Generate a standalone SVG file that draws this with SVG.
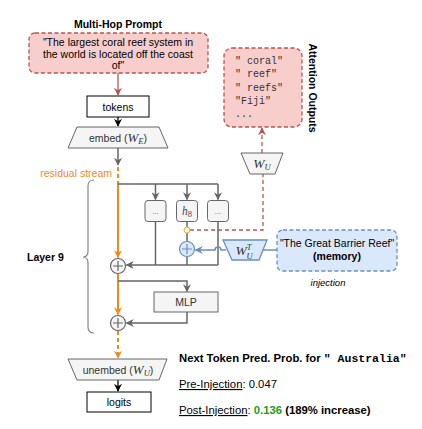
<svg xmlns="http://www.w3.org/2000/svg" width="422" height="429" viewBox="0 0 422 429">
<style>
text{font-family:"Liberation Sans",Arial,sans-serif;font-size:10.5px;fill:#000}
.b{font-weight:bold}
.c{text-anchor:middle}
.g{fill:#333}
.m{font-family:"Liberation Serif","Times New Roman",serif;font-style:italic}
.mono{font-family:"Liberation Mono","Courier New",monospace}
.red{fill:#f8cecc;stroke:#b85450;stroke-width:1.3;stroke-dasharray:4 2.5}
.blue{fill:#dae8fc;stroke:#6c8ebf;stroke-width:1.3;stroke-dasharray:4 2.5}
.gray{fill:#f5f5f5;stroke:#666;stroke-width:1}
.wb{fill:#fff;stroke:#000;stroke-width:1}
.ln{fill:none;stroke:#666;stroke-width:1.5}
.or{fill:none;stroke:#ef8a17;stroke-width:2}
.rd{fill:none;stroke:#b85450;stroke-width:1.3;stroke-dasharray:4 3}
.bl{fill:none;stroke:#6c8ebf;stroke-width:1.5}
.bk{fill:none;stroke:#000;stroke-width:1.3}
</style>
<defs>
<marker id="aG" viewBox="0 0 10 10" refX="9" refY="5" markerWidth="8" markerHeight="8" markerUnits="userSpaceOnUse" orient="auto"><path d="M0,0L10,5L0,10L3,5z" fill="#666"/></marker>
<marker id="aK" viewBox="0 0 10 10" refX="9" refY="5" markerWidth="8" markerHeight="8" markerUnits="userSpaceOnUse" orient="auto"><path d="M0,0L10,5L0,10L3,5z" fill="#000"/></marker>
<marker id="aR" viewBox="0 0 10 10" refX="9" refY="5" markerWidth="8" markerHeight="8" markerUnits="userSpaceOnUse" orient="auto"><path d="M0,0L10,5L0,10L3,5z" fill="#b85450"/></marker>
<marker id="aB" viewBox="0 0 10 10" refX="9" refY="5" markerWidth="8" markerHeight="8" markerUnits="userSpaceOnUse" orient="auto"><path d="M0,0L10,5L0,10L3,5z" fill="#6c8ebf"/></marker>
<marker id="aO" viewBox="0 0 10 10" refX="9" refY="5" markerWidth="8" markerHeight="8" markerUnits="userSpaceOnUse" orient="auto"><path d="M0,0L10,5L0,10L3,5z" fill="#ef8a17"/></marker>
</defs>

<g id="connectors">
<path class="rd" style="stroke-dasharray:none" d="M118,73V95" marker-end="url(#aR)"/>
<path class="bk" d="M118,117V126" marker-end="url(#aK)"/>
<path class="ln" d="M118,148V165" marker-end="url(#aG)"/>
<path class="or" d="M118,167V183" stroke-dasharray="4 3"/>
<path class="or" d="M118,183V257.5" marker-end="url(#aO)"/>
<path class="ln" d="M118,184H218"/>
<path class="ln" d="M155.5,184V199.5" marker-end="url(#aG)"/>
<path class="ln" d="M187,184V199.5" marker-end="url(#aG)"/>
<path class="ln" d="M218,184V199.5" marker-end="url(#aG)"/>
<path class="ln" d="M155.5,222V265"/>
<path class="ln" d="M218,222V265"/>
<path class="ln" d="M187,222V227"/>
<path class="ln" d="M187,233V241.5"/>
<path class="ln" d="M187,256.5V265"/>
<path class="ln" d="M218,265H126.5" marker-end="url(#aG)"/>
<path class="rd" d="M190,230H263V174"/>
<path class="rd" d="M262,153V128" marker-end="url(#aR)"/>
<path class="bl" d="M277,250H263"/>
<path class="bl" d="M226,250H221A3,3 0 0 0 215,250H195.5" marker-end="url(#aB)"/>
<path class="or" d="M118,273.5V314.5" marker-end="url(#aO)"/>
<path class="ln" d="M118,281H187V291.5" marker-end="url(#aG)"/>
<path class="ln" d="M187,312V323H126.5" marker-end="url(#aG)"/>
<path class="or" d="M118,331V358" stroke-dasharray="4 3" marker-end="url(#aO)"/>
<path class="bk" d="M118,380V391" marker-end="url(#aK)"/>
<path d="M94,180Q88,180 88,186V251Q88,257 83,257Q88,257 88,263V327Q88,333 94,333" fill="none" stroke="#888" stroke-width="1.2"/>
</g>

<g id="prompt">
<text class="b c" x="118" y="27.5">Multi-Hop Prompt</text>
<rect class="red" x="29" y="33" width="179" height="40" rx="6"/>
<text class="c" x="118" y="46">"The largest coral reef system in</text>
<text class="c" x="118" y="57.5">the world is located off the coast</text>
<text class="c" x="118" y="69">of"</text>
</g>

<g id="tokens">
<rect class="wb" x="87" y="96" width="62" height="21"/>
<text class="c" x="118" y="110.5">tokens</text>
</g>

<g id="embed">
<polygon class="gray" points="77,127 159,127 168,148 68,148"/>
<text class="c g" x="118" y="141.5">embed (<tspan class="m" style="font-size:13px">W</tspan><tspan class="m" style="font-size:8.5px" dy="2">E</tspan><tspan dy="-2">)</tspan></text>
</g>

<g id="residual-label">
<text x="112" y="176.5" style="text-anchor:end;fill:#ef8a17">residual stream</text>
</g>

<g id="layer9">
<text class="b" x="27" y="261">Layer 9</text>
</g>

<g id="head1">
<rect class="gray" x="145" y="200.5" width="21" height="21" rx="3"/>
<text class="c" x="155.5" y="214" style="font-size:8px;fill:#557">...</text>
</g>
<g id="head8">
<rect class="gray" x="176.5" y="200.5" width="21" height="21" rx="3"/>
<text class="c" x="187" y="215" style="fill:#445"><tspan class="m" style="font-size:11.5px">h</tspan><tspan style="font-family:'Liberation Serif',serif;font-size:8.5px" dy="1.5">8</tspan></text>
</g>
<g id="head3">
<rect class="gray" x="207.5" y="200.5" width="21" height="21" rx="3"/>
<text class="c" x="218" y="214" style="font-size:8px;fill:#557">...</text>
</g>

<g id="probe">
<circle cx="187" cy="230" r="3" fill="#fff2cc" stroke="#d6b656" stroke-width="1"/>
</g>

<g id="plus-inject">
<circle cx="187" cy="249" r="7.5" fill="#dae8fc" stroke="#6c8ebf" stroke-width="1.2"/>
<path d="M182,249H192M187,244V254" stroke="#6c8ebf" stroke-width="1.2"/>
</g>

<g id="plus1">
<circle cx="118" cy="266" r="7.5" fill="#f5f5f5" stroke="#666" stroke-width="1.2"/>
<path d="M113,266H123M118,261V271" stroke="#666" stroke-width="1.2"/>
</g>

<g id="mlp">
<rect class="gray" x="154" y="292" width="64" height="20"/>
<text class="c g" x="186" y="305.5">MLP</text>
</g>

<g id="plus2">
<circle cx="118" cy="323" r="7.5" fill="#f5f5f5" stroke="#666" stroke-width="1.2"/>
<path d="M113,323H123M118,318V328" stroke="#666" stroke-width="1.2"/>
</g>

<g id="unembed">
<polygon class="gray" points="68,359 167,359 159,380 77,380"/>
<text class="c g" x="118" y="373.5">unembed (<tspan class="m" style="font-size:13px">W</tspan><tspan class="m" style="font-size:8.5px" dy="2">U</tspan><tspan dy="-2">)</tspan></text>
</g>

<g id="logits">
<rect class="wb" x="87" y="392" width="64" height="20"/>
<text class="c" x="119" y="405.5">logits</text>
</g>

<g id="wu">
<polygon class="gray" points="241,153 283,153 275,174 250,174"/>
<text class="c g" x="262" y="168"><tspan class="m" style="font-size:13.5px">W</tspan><tspan class="m" style="font-size:8.5px" dy="2">U</tspan></text>
</g>

<g id="attention">
<rect class="red" x="224" y="48" width="78" height="79" rx="8"/>
<text class="mono" x="235" y="64" style="font-size:10px;fill:#333">" coral"</text>
<text class="mono" x="235" y="77.3" style="font-size:10px;fill:#333">" reef"</text>
<text class="mono" x="235" y="90.6" style="font-size:10px;fill:#333">" reefs"</text>
<text class="mono" x="235" y="104" style="font-size:10px;fill:#333">"Fiji"</text>
<text class="mono" x="235" y="117.3" style="font-size:10px;fill:#333">...</text>
<text class="b c" transform="translate(309,88) rotate(90)">Attention Outputs</text>
</g>

<g id="wut">
<polygon class="blue" style="stroke-dasharray:none" points="223,240 267,240 259,260 232,260"/>
<text class="c g" x="244" y="255"><tspan class="m" style="font-size:13.5px">W</tspan><tspan class="m" style="font-size:8.5px" dy="-5">T</tspan><tspan class="m" style="font-size:8.5px" dx="-5" dy="9">U</tspan></text>
</g>

<g id="memory">
<rect class="blue" x="277" y="230" width="120" height="41" rx="6"/>
<text class="c" x="337" y="247">"The Great Barrier Reef"</text>
<text class="c b" x="337" y="260">(memory)</text>
<text class="c" x="328" y="285.5" style="font-style:italic;font-size:9.5px">injection</text>
</g>

<g id="results">
<text class="b" x="179" y="362" style="font-size:11.3px">Next Token Pred. Prob. for <tspan class="mono" style="font-size:11.5px">" Australia"</tspan></text>
<text x="179" y="388" style="font-size:11.3px"><tspan text-decoration="underline">Pre-Injection</tspan>: 0.047</text>
<text x="179" y="414" style="font-size:11.3px"><tspan text-decoration="underline">Post-Injection</tspan>: <tspan class="b" style="fill:#1a9e1a">0.136</tspan> <tspan class="b">(189% increase)</tspan></text>
</g>
</svg>
